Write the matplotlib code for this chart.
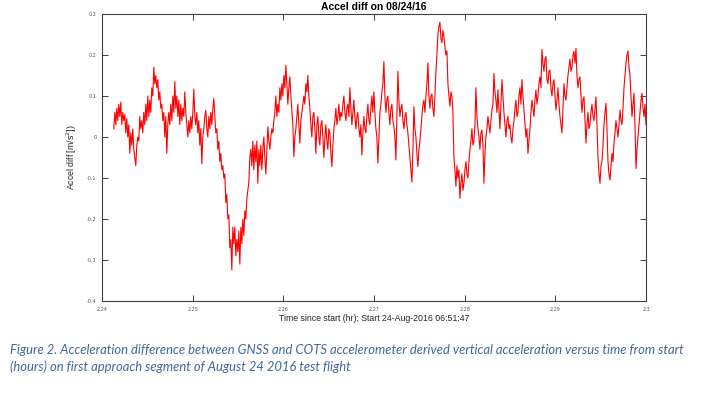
import numpy as np
import matplotlib.pyplot as plt

t_start = 2.2413
t_end = 2.30
accel_diff = [
    0.02, 0.06, 0.03, 0.07, 0.04, 0.08, 0.05, 0.085, 0.03, 0.06,
    0.04, 0.055, 0.01, 0.045, 0.0, 0.03, -0.04, 0.01, -0.02, 0.02,
    -0.03, -0.05, -0.07, -0.02, 0.0, -0.01, 0.05, 0.02, 0.04, 0.01,
    0.06, 0.03, 0.08, 0.04, 0.1, 0.05, 0.09, 0.06, 0.12, 0.1,
    0.17, 0.13, 0.15, 0.12, 0.14, 0.09, 0.11, 0.07, 0.08, 0.04,
    0.06, 0.0, 0.05, -0.04, 0.03, 0.06, 0.03, 0.08, 0.04, 0.1,
    0.06, 0.135, 0.07, 0.1, 0.05, 0.09, 0.03, 0.08, 0.04, 0.07,
    0.05, 0.11, 0.06, 0.03, 0.0, 0.04, 0.01, 0.05, 0.02, 0.06,
    0.117, 0.05, 0.03, 0.06, 0.01, 0.04, -0.02, 0.02, -0.065, 0.0,
    0.02, 0.05, 0.065, 0.02, 0.0, 0.05, 0.02, 0.06, 0.03, 0.07,
    0.094, 0.05, 0.01, 0.02, -0.03, -0.01, -0.06, -0.04, -0.08, -0.07,
    -0.1, -0.09, -0.16, -0.14, -0.2, -0.19, -0.27, -0.25, -0.324, -0.22,
    -0.26, -0.22, -0.29, -0.25, -0.28, -0.23, -0.31, -0.22, -0.26, -0.2,
    -0.24, -0.18, -0.2, -0.15, -0.13, -0.11, -0.05, -0.03, -0.07, -0.01,
    -0.08, -0.02, -0.06, -0.01, -0.113, -0.03, -0.07, -0.02, -0.08, -0.03,
    0.0, -0.05, -0.09, -0.03, 0.025, -0.01, -0.03, 0.0, 0.02, 0.01,
    0.04, 0.06, 0.1, 0.05, 0.08, 0.06, 0.12, 0.09, 0.13, 0.1,
    0.15, 0.12, 0.175, 0.13, 0.08, 0.12, 0.147, 0.1, 0.065, 0.03,
    -0.048, 0.0, 0.02, 0.05, 0.08, 0.03, -0.015, 0.04, 0.06, 0.08,
    0.1, 0.08, 0.13, 0.11, 0.15, 0.1, 0.07, 0.03, 0.0, 0.05,
    0.06, 0.02, -0.04, 0.03, 0.05, 0.0, -0.02, 0.03, 0.04, 0.0,
    -0.05, 0.0, 0.03, -0.01, -0.03, 0.02, 0.01, -0.04, -0.072, -0.02,
    0.02, 0.04, 0.07, 0.03, 0.05, 0.08, 0.04, 0.06, 0.05, 0.08,
    0.1, 0.06, 0.04, 0.07, 0.08, 0.05, 0.12, 0.07, 0.03, 0.06,
    0.09, 0.05, 0.02, 0.05, 0.06, 0.02, 0.0, 0.03, -0.044, 0.01,
    0.05, 0.02, 0.01, 0.05, 0.08, 0.04, 0.03, 0.07, 0.1, 0.06,
    0.11, 0.06, 0.02, 0.0, -0.064, 0.0, 0.06, 0.08, 0.11, 0.13,
    0.184, 0.1, 0.06, 0.09, 0.1, 0.06, 0.03, 0.07, 0.08, 0.04,
    0.025, 0.0, -0.056, 0.05, 0.16, 0.09, 0.05, 0.07, 0.08, 0.04,
    0.02, 0.05, 0.06, 0.03, 0.01, -0.02, -0.05, -0.08, -0.11, -0.03,
    0.074, 0.02, 0.0, -0.04, -0.072, -0.03, -0.01, 0.02, 0.05, 0.08,
    0.09, 0.06, 0.1, 0.13, 0.181, 0.1, 0.07, 0.1, 0.105, 0.07,
    0.05, 0.1, 0.16, 0.2, 0.25, 0.27, 0.28, 0.24, 0.23, 0.26,
    0.245, 0.22, 0.2, 0.21, 0.13, 0.1, 0.075, 0.11, 0.1, 0.06,
    -0.05, -0.08, -0.12, -0.07, -0.1, -0.08, -0.15, -0.11, -0.09, -0.13,
    -0.113, -0.08, -0.06, -0.09, -0.1, -0.06, -0.03, -0.01, 0.02, -0.02,
    -0.01, 0.03, 0.12, 0.05, 0.02, 0.0, -0.03, 0.01, 0.017, -0.02,
    -0.113, -0.04, 0.0, 0.02, 0.05, 0.03, 0.01, 0.04, 0.066, 0.08,
    0.155, 0.11, 0.09, 0.06, 0.115, 0.07, 0.02, 0.08, 0.14, 0.1,
    0.06, 0.03, 0.0, 0.04, 0.05, 0.02, 0.03, 0.0, -0.015, 0.02,
    0.04, 0.07, 0.09, 0.05, 0.06, 0.1, 0.12, 0.08, 0.14, 0.1,
    0.066, 0.03, 0.0, 0.02, -0.04, -0.01, 0.02, 0.06, 0.09, 0.07,
    0.05, 0.09, 0.115, 0.08, 0.1, 0.13, 0.147, 0.12, 0.214, 0.18,
    0.16, 0.19, 0.196, 0.14, 0.13, 0.16, 0.163, 0.12, 0.1, 0.13,
    0.14, 0.1, 0.066, 0.09, 0.12, 0.08, 0.05, 0.03, 0.01, 0.07,
    0.13, 0.1, 0.09, 0.12, 0.15, 0.17, 0.19, 0.16, 0.17, 0.2,
    0.209, 0.18, 0.216, 0.15, 0.12, 0.14, 0.147, 0.1, 0.06, 0.09,
    0.098, 0.04, -0.015, 0.03, 0.06, 0.02, 0.03, 0.06, 0.08, 0.05,
    0.04, 0.07, 0.098, 0.03, -0.05, -0.09, -0.113, -0.07, -0.06, -0.02,
    0.03, 0.06, 0.082, 0.02, -0.06, -0.09, -0.105, -0.07, -0.04, -0.06,
    -0.015, 0.01, 0.04, 0.02, 0.0, 0.03, 0.066, 0.04, 0.03, 0.07,
    0.12, 0.15, 0.18, 0.2, 0.21, 0.17, 0.15, 0.1, 0.05, 0.08,
    0.107, 0.03, -0.077, -0.03, 0.0, 0.03, 0.06, 0.09, 0.107, 0.07,
    0.05, 0.08, 0.03,
]
x_ticks = [2.24, 2.25, 2.26, 2.27, 2.28, 2.29, 2.30]
x_tick_labels = ['2.24', '2.25', '2.26', '2.27', '2.28', '2.29', '2.3']
y_ticks = [-0.4, -0.3, -0.2, -0.1, 0.0, 0.1, 0.2, 0.3]
y_tick_labels = ['-0.4', '-0.3', '-0.2', '-0.1', '0', '0.1', '0.2', '0.3']

caption = ("Figure 2. Acceleration difference between GNSS and COTS accelerometer derived vertical acceleration versus time from start\n"
           "(hours) on first approach segment of August 24 2016 test flight")

time_hr = np.linspace(t_start, t_end, len(accel_diff))

fig = plt.figure(figsize=(7.2, 3.98), dpi=100)
ax = fig.add_axes([102/720, 1 - 301/398, 544/720, 287/398])

ax.plot(time_hr, accel_diff, color='#ff0000', linewidth=0.8)

ax.set_xlim(2.24, 2.30)
ax.set_ylim(-0.4, 0.3)
ax.set_xticks(x_ticks)
ax.set_xticklabels(x_tick_labels)
ax.set_yticks(y_ticks)
ax.set_yticklabels(y_tick_labels)
ax.tick_params(direction='in', length=4, width=0.7, colors='#404040',
               labelsize=3.5, labelcolor='#555555', top=True, right=True, pad=4)
for s in ax.spines.values():
    s.set_color('#404040')
    s.set_linewidth(0.8)

ax.set_title('Accel diff on 08/24/16', fontsize=7.5, fontweight='bold',
             family='Liberation Sans', pad=3)
ax.set_xlabel('Time since start (hr); Start 24-Aug-2016 06:51:47', fontsize=6.3,
              family='Liberation Sans', color='#262626', labelpad=2)
ax.set_ylabel('Accel diff [m/s$^2$])', fontsize=6.3, family='Liberation Sans',
              color='#262626', labelpad=6)

fig.text(10/720, 1 - 344/398, caption, fontsize=9.4, style='italic',
         family='Lato', color='#41689c', va='top', ha='left', linespacing=1.4)

fig.savefig('out.png', dpi=100)
